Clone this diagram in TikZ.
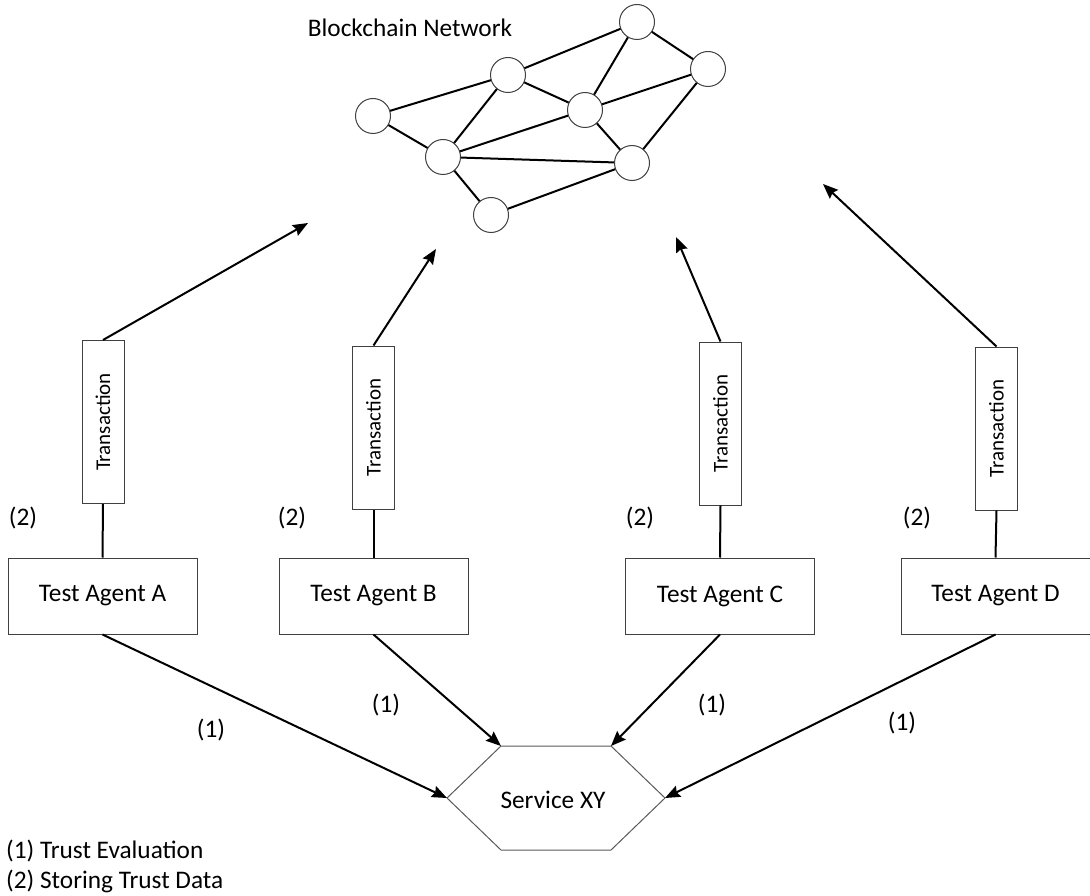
\documentclass[tikz,border=0pt]{standalone}
\usepackage{fontspec}
\setmainfont{Carlito}
\usetikzlibrary{arrows.meta}
\begin{document}
\begin{tikzpicture}[x=1pt,y=-1pt,
  txt/.style={font=\fontsize{25.3}{30}\selectfont, inner sep=0pt},
  peer/.style={circle, draw=black!75, line width=1pt, fill=white, minimum size=35pt, inner sep=0pt},
  link/.style={line width=2pt, black},
  agent/.style={draw=black!75, line width=1pt, minimum width=189pt, minimum height=76pt, inner sep=0pt, font=\fontsize{25.3}{30}\selectfont},
  trans/.style={draw=black!75, line width=1pt, minimum width=42pt, minimum height=163pt, inner sep=0pt},
  conn/.style={line width=2pt, black, -{Stealth[length=15pt,width=12pt,inset=2pt]}},
  stem/.style={line width=2pt, black}]
\useasboundingbox (0,0) rectangle (1090,896);

% Blockchain network
\node[txt] (title) at (410,28) {Blockchain Network};
\draw[link] (373,116) -- (508,75);
\draw[link] (508,75) -- (637,22);
\draw[link] (637,22) -- (585,110);
\draw[link] (637,22) -- (708,69);
\draw[link] (508,75) -- (585,110);
\draw[link] (508,75) -- (443,157);
\draw[link] (585,110) -- (708,69);
\draw[link] (585,110) -- (443,157);
\draw[link] (585,110) -- (632,163);
\draw[link] (708,69) -- (632,163);
\draw[link] (373,116) -- (443,157);
\draw[link] (443,157) -- (632,163);
\draw[link] (443,157) -- (491,215);
\draw[link] (491,215) -- (632,163);
\node[peer] (n1) at (637,22) {};
\node[peer] (n2) at (708,69) {};
\node[peer] (n3) at (508,75) {};
\node[peer] (n4) at (373,116) {};
\node[peer] (n5) at (585,110) {};
\node[peer] (n6) at (443,157) {};
\node[peer] (n7) at (632,163) {};
\node[peer] (n8) at (491,215) {};

% Agents
\node[agent] (ga) at (102.5,596) {Test Agent A};
\node[agent] (gb) at (373.5,596) {Test Agent B};
\node[agent] (gc) at (720,596) {Test Agent C};
\node[agent] (gd) at (995.5,596) {Test Agent D};

% Transactions
\node[trans] (ta) at (103,422) {};
\node[trans] (tb) at (373.5,427.5) {};
\node[trans] (tc) at (720.5,423.5) {};
\node[trans] (td) at (996.5,428.5) {};
\foreach \t in {ta,tb,tc,td}{
  \node[rotate=90, font=\fontsize{21}{25}\selectfont, inner sep=0pt] at (\t) {Transaction};
}

\draw[stem] (ga.north) -- (ta.south);
\draw[stem] (gb.north) -- (tb.south);
\draw[stem] (gc.north) -- (tc.south);
\draw[stem] (gd.north) -- (td.south);

\coordinate (ea) at (308,223);
\coordinate (eb) at (436,249);
\coordinate (ec) at (676,237);
\coordinate (ed) at (823,184);
\draw[conn] (ta.north) -- (ea);
\draw[conn] (tb.north) -- (eb);
\draw[conn] (tc.north) -- (ec);
\draw[conn] (td.north) -- (ed);

% Service hexagon
\coordinate (hl) at (447,798);
\coordinate (htl) at (501,746);
\coordinate (htr) at (611,746);
\coordinate (hr) at (665,798);
\coordinate (hbr) at (611,850);
\coordinate (hbl) at (501,850);
\draw[black!65, line width=1pt] (hl) -- (htl) -- (htr) -- (hr) -- (hbr) -- (hbl) -- cycle;
\node[txt] (svc) at (553,800) {Service XY};

\draw[conn] (ga.south) -- (hl);
\draw[conn] (gb.south) -- (htl);
\draw[conn] (gc.south) -- (htr);
\draw[conn] (gd.south) -- (hr);

% Labels
\node[txt] (l1a) at (211,730) {(1)};
\node[txt] (l1b) at (386,705) {(1)};
\node[txt] (l1c) at (712,705) {(1)};
\node[txt] (l1d) at (902,723) {(1)};
\node[txt] (l2a) at (23,518) {(2)};
\node[txt] (l2b) at (292,518) {(2)};
\node[txt] (l2c) at (640,518) {(2)};
\node[txt] (l2d) at (917,518) {(2)};

% Legend
\node[txt, anchor=west] (leg1) at (6,851) {(1) Trust Evaluation};
\node[txt, anchor=west] (leg2) at (6,881) {(2) Storing Trust Data};
\end{tikzpicture}
\end{document}
